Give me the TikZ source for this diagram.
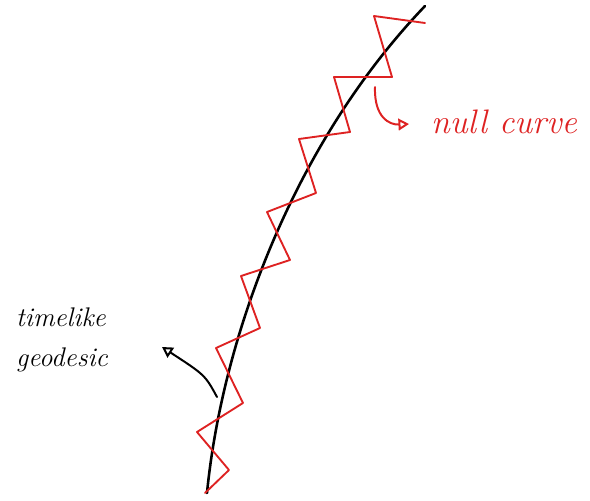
\documentclass[tikz,border=0pt]{standalone}
\usepackage{tikz}
\usepackage{xcolor}
\usetikzlibrary{arrows.meta}
\definecolor{penred}{RGB}{222,34,34}

\begin{document}
\begin{tikzpicture}[x=0.03cm, y=-0.03cm]
    % Styles for lines and labels
    \tikzstyle{geodesic} = [line width=2.2pt, black, line cap=round]
    \tikzstyle{nullpath} = [line width=1.6pt, penred, line join=round, line cap=round]
    \tikzstyle{pointer} = [line width=1.7pt, line cap=round, -{Triangle[open, length=9pt, width=10pt]}]
    \tikzstyle{label} = [font=\itshape\fontsize{23}{34}\selectfont, align=left, inner sep=0pt]

    \useasboundingbox (0,0) rectangle (590,500);

  % Timelike geodesic
    \coordinate (geostart) at (207,493);
    \coordinate (geoend) at (425,6);
    \draw[geodesic] (geostart) .. controls (222,340) and (292,145) .. (geoend);

  % Null curve zigzag
    \draw[nullpath] (205,493) -- (229,470) -- (197,432) -- (243,403) -- (216,348) -- (260,328) -- (241,276) -- (290,260) -- (267,212) -- (316,193) -- (299,139) -- (350,132) -- (334,77) -- (392,77) -- (374,16) -- (425,23);

  % Labels
    \node[label] (timelike) at (62,340) {timelike\\geodesic};
    \node[label, text=penred, font=\itshape\fontsize{29}{34}\selectfont] (nullcurve) at (504,122) {null curve};

  % Pointers with explicit coordinates
    \coordinate (geotail) at (217,397);
    \coordinate (geotip) at (162,347);
    \coordinate (nulltail) at (375,87);
    \coordinate (nulltip) at (409,124);
    \draw[pointer] (geotail) .. controls (205,375) .. (geotip);
    \draw[pointer, penred] (nulltail) .. controls (374,118) and (390,125) .. (nulltip);

\end{tikzpicture}
\end{document}
